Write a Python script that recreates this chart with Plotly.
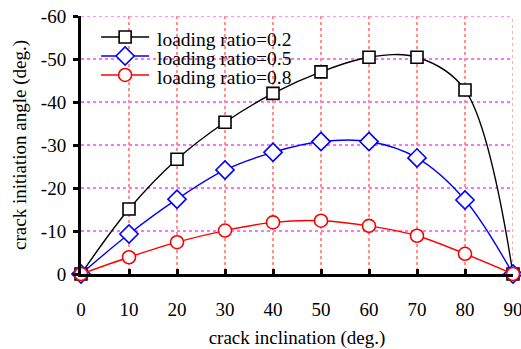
import plotly.graph_objects as go

inclination = [0, 10, 20, 30, 40, 50, 60, 70, 80, 90]
ratio_02 = [0, -15.1, -26.7, -35.3, -42.0, -47.0, -50.4, -50.4, -42.8, 0]
ratio_05 = [0, -9.3, -17.4, -24.2, -28.3, -30.8, -30.8, -27.0, -17.2, 0]
ratio_08 = [0, -3.9, -7.4, -10.1, -12.0, -12.4, -11.2, -8.9, -4.7, 0]
names = ["loading ratio=0.2", "loading ratio=0.5", "loading ratio=0.8"]
x_ticks = [0, 10, 20, 30, 40, 50, 60, 70, 80, 90]
y_ticks = [0, -10, -20, -30, -40, -50, -60]
y_labels = ["0", "-10", "-20", "-30", "-40", "-50", "-60"]

font = "Liberation Serif"

fig = go.Figure()
series = [
    (ratio_02, names[0], "black", "square", 12),
    (ratio_05, names[1], "blue", "diamond", 14),
    (ratio_08, names[2], "red", "circle", 13),
]
for ys, nm, col, sym, sz in series:
    fig.add_trace(go.Scatter(
        x=inclination, y=ys, name=" ", legendgroup=nm, hovertext=nm, mode="lines+markers",
        line=dict(color=col, width=1.4, shape="spline", smoothing=1.0),
        marker=dict(symbol=sym, size=sz, color="white", line=dict(color=col, width=1.6)),
        cliponaxis=False,
    ))

# grid lines on the far edges (plotly omits them at the range limits)
fig.add_shape(type="line", xref="x", yref="y", x0=x_ticks[-1], x1=x_ticks[-1], y0=y_ticks[0], y1=y_ticks[-1],
              line=dict(color="#ff9090", width=1.5, dash="dot"), layer="below")
fig.add_shape(type="line", xref="x", yref="y", x0=x_ticks[0], x1=x_ticks[-1], y0=y_ticks[-1], y1=y_ticks[-1],
              line=dict(color="#ff70ff", width=1.5, dash="dot"), layer="below")

# legend labels drawn as text next to compact legend symbols
label_y = [0.907, 0.834, 0.762]
for nm, yy in zip(names, label_y):
    fig.add_annotation(text=nm, xref="paper", yref="paper", x=0.171, y=yy,
                       xanchor="left", yanchor="middle", showarrow=False,
                       font=dict(size=19.5, family=font, color="black"))

fig.update_layout(
    width=521, height=349,
    margin=dict(l=81, r=8, t=16, b=75),
    plot_bgcolor="white", paper_bgcolor="white",
    font=dict(family=font, size=19, color="black"),
    showlegend=True,
    legend=dict(x=0.035, y=0.975, xanchor="left", yanchor="top",
                bgcolor="rgba(0,0,0,0)", font=dict(size=12, family=font, color="rgba(0,0,0,0)"),
                tracegroupgap=0, itemwidth=48),
    xaxis=dict(
        range=[0, 90], tickvals=x_ticks, ticks="inside", ticklen=5, tickwidth=3,
        tickcolor="black", showline=True, linecolor="black", linewidth=3,
        showgrid=True, gridcolor="#ff9090", griddash="dot", gridwidth=1.5,
        zeroline=False, ticklabelstandoff=16, automargin=False,
        ticklabeloverflow="allow",
        title=dict(text="crack inclination (deg.)", standoff=14, font=dict(size=19, family=font)),
        tickfont=dict(size=19, family=font),
    ),
    yaxis=dict(
        range=[0, -60], tickvals=y_ticks, ticktext=y_labels, ticks="outside", ticklen=5, tickwidth=3,
        tickcolor="black", showline=True, linecolor="black", linewidth=3,
        showgrid=True, gridcolor="#ff70ff", griddash="dot", gridwidth=1.5,
        zeroline=False, ticklabelstandoff=3, automargin=False,
        title=dict(text="crack initiation angle (deg.)", standoff=10, font=dict(size=19, family=font)),
        tickfont=dict(size=19, family=font),
    ),
)

fig.write_html("out.html")
